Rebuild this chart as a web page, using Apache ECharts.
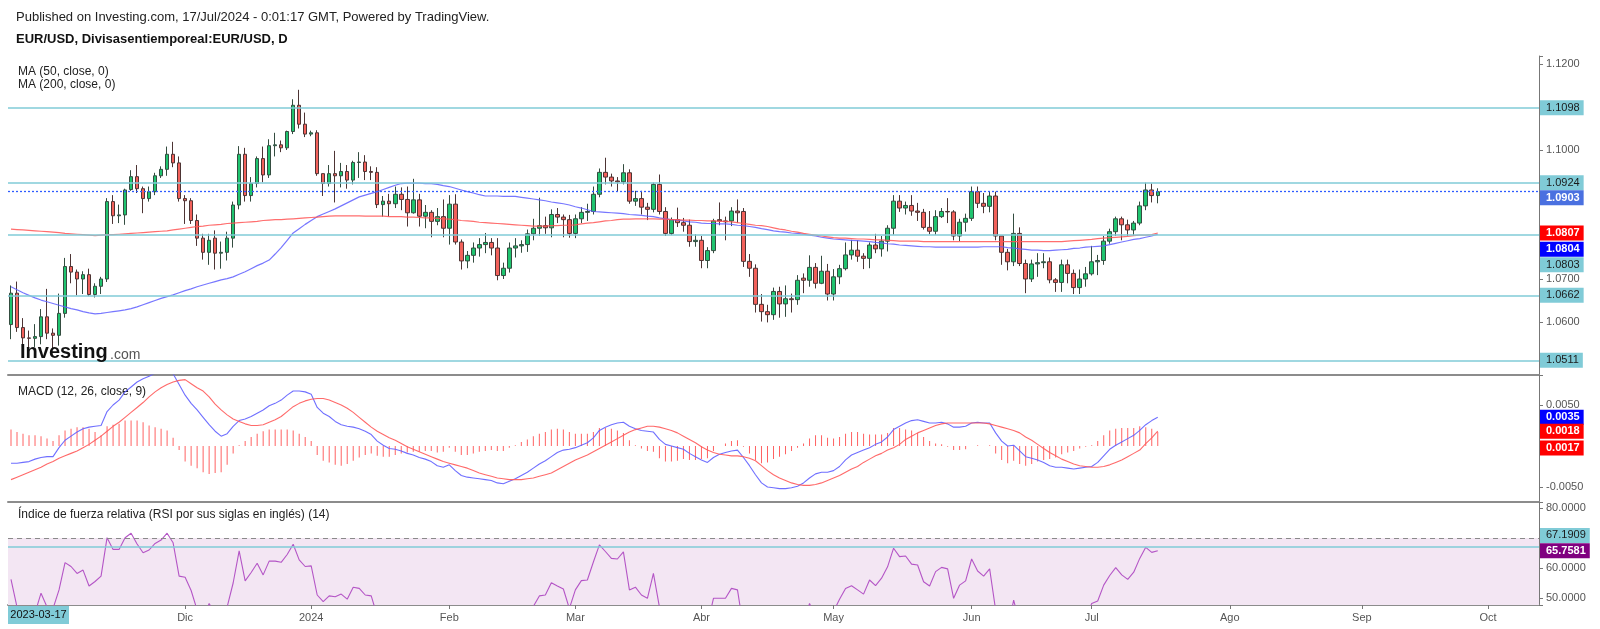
<!DOCTYPE html>
<html><head><meta charset="utf-8">
<script src="https://cdn.jsdelivr.net/npm/echarts@6.0.0/dist/echarts.min.js"></script>
<style>html,body{margin:0;padding:0;background:#fff}#c{width:1600px;height:629px}</style>
</head><body><div id="c"></div>
<script>
// ---------- DATA ----------
const firstDay = [2023, 9, 23];   // 2023-10-23, first daily bar
const totalSlots = 255;           // bars + empty future slots on the time axis
const monthNames = ['Ene','Feb','Mar','Abr','May','Jun','Jul','Ago','Sep','Oct','Nov','Dic'];

const opens = [
1.0594,1.0667,1.0587,1.0563,1.0562,1.0566,1.0612,1.0574,1.0569,1.0620,
1.0729,1.0716,1.0700,1.0710,1.0664,1.0683,1.0700,1.0880,1.0847,1.0849,
1.0908,1.0938,1.0910,1.0887,1.0903,1.0940,1.0955,1.0990,1.0970,1.0887,
1.0882,1.0836,1.0795,1.0762,1.0795,1.0760,1.0762,1.0795,1.0872,1.0990,
1.0894,1.0922,1.0980,1.0942,1.1010,1.1012,1.1005,1.1043,1.1104,1.1060,
1.1037,1.1040,1.0945,1.0922,1.0945,1.0940,1.0950,1.0930,1.0971,1.0972,
1.0950,1.0948,1.0873,1.0881,1.0875,1.0897,1.0885,1.0854,1.0884,1.0846,
1.0855,1.0834,1.0845,1.0818,1.0874,1.0786,1.0742,1.0755,1.0772,1.0780,
1.0785,1.0772,1.0708,1.0725,1.0772,1.0777,1.0780,1.0805,1.0818,1.0824,
1.0819,1.0850,1.0844,1.0838,1.0806,1.0840,1.0855,1.0857,1.0897,1.0948,
1.0937,1.0928,1.0926,1.0947,1.0881,1.0887,1.0867,1.0862,1.0920,1.0857,
1.0806,1.0838,1.0831,1.0825,1.0787,1.0790,1.0743,1.0766,1.0838,1.0835,
1.0835,1.0858,1.0857,1.0741,1.0725,1.0641,1.0624,1.0617,1.0671,1.0642,
1.0654,1.0652,1.0702,1.0697,1.0727,1.0690,1.0718,1.0665,1.0705,1.0724,
1.0756,1.0767,1.0753,1.0748,1.0779,1.0770,1.0788,1.0818,1.0881,1.0865,
1.0871,1.0858,1.0855,1.0820,1.0811,1.0845,1.0857,1.0856,1.0800,1.0832,
1.0841,1.0903,1.0876,1.0869,1.0893,1.0800,1.0762,1.0740,1.0806,1.0736,
1.0700,1.0735,1.0738,1.0740,1.0698,1.0692,1.0733,1.0713,1.0680,1.0700,
1.0712,1.0740,1.0743,1.0788,1.0810,1.0840,1.0826,1.0814,1.0830,1.0870,
1.0907,1.0894];
const closes = [
1.0667,1.0587,1.0563,1.0562,1.0566,1.0612,1.0574,1.0569,1.0620,1.0729,
1.0716,1.0700,1.0710,1.0664,1.0683,1.0700,1.0880,1.0847,1.0849,1.0907,
1.0938,1.0910,1.0887,1.0903,1.0940,1.0955,1.0990,1.0970,1.0887,1.0882,
1.0836,1.0795,1.0762,1.0790,1.0760,1.0762,1.0795,1.0872,1.0990,1.0894,
1.0922,1.0980,1.0942,1.1010,1.1012,1.1005,1.1043,1.1104,1.1060,1.1037,
1.1040,1.0945,1.0922,1.0945,1.0940,1.0950,1.0930,1.0971,1.0972,1.0950,
1.0948,1.0873,1.0881,1.0875,1.0897,1.0885,1.0854,1.0884,1.0846,1.0855,
1.0834,1.0845,1.0818,1.0874,1.0786,1.0742,1.0755,1.0772,1.0780,1.0785,
1.0772,1.0708,1.0725,1.0772,1.0777,1.0780,1.0805,1.0818,1.0824,1.0819,
1.0850,1.0844,1.0838,1.0806,1.0840,1.0855,1.0857,1.0897,1.0948,1.0937,
1.0928,1.0926,1.0947,1.0881,1.0887,1.0867,1.0862,1.0920,1.0857,1.0806,
1.0838,1.0831,1.0825,1.0787,1.0790,1.0743,1.0766,1.0835,1.0835,1.0833,
1.0858,1.0854,1.0741,1.0725,1.0641,1.0624,1.0617,1.0671,1.0642,1.0654,
1.0652,1.0697,1.0697,1.0727,1.0690,1.0718,1.0665,1.0705,1.0724,1.0756,
1.0767,1.0753,1.0748,1.0779,1.0770,1.0788,1.0818,1.0881,1.0865,1.0871,
1.0858,1.0855,1.0820,1.0811,1.0845,1.0857,1.0856,1.0800,1.0832,1.0841,
1.0903,1.0876,1.0869,1.0893,1.0800,1.0762,1.0740,1.0806,1.0736,1.0700,
1.0735,1.0738,1.0740,1.0698,1.0692,1.0733,1.0713,1.0680,1.0700,1.0712,
1.0740,1.0743,1.0788,1.0810,1.0840,1.0826,1.0814,1.0830,1.0870,1.0907,
1.0894,1.0903];
const lows = [
1.0560,1.0577,1.0545,1.0530,1.0542,1.0548,1.0560,1.0535,1.0545,1.0610,
1.0690,1.0662,1.0665,1.0660,1.0657,1.0665,1.0693,1.0828,1.0830,1.0826,
1.0905,1.0900,1.0853,1.0880,1.0895,1.0935,1.0940,1.0960,1.0880,1.0828,
1.0828,1.0777,1.0745,1.0733,1.0722,1.0724,1.0743,1.0773,1.0862,1.0880,
1.0880,1.0913,1.0925,1.0935,1.0985,1.0995,1.1000,1.1037,1.1050,1.1030,
1.1032,1.0940,1.0893,1.0915,1.0878,1.0913,1.0910,1.0920,1.0935,1.0930,
1.0930,1.0865,1.0845,1.0845,1.0865,1.0860,1.0822,1.0852,1.0822,1.0818,
1.0797,1.0825,1.0797,1.0780,1.0780,1.0722,1.0725,1.0738,1.0752,1.0760,
1.0755,1.0697,1.0700,1.0715,1.0750,1.0761,1.0763,1.0790,1.0800,1.0805,
1.0797,1.0830,1.0797,1.0796,1.0795,1.0830,1.0835,1.0850,1.0890,1.0920,
1.0915,1.0903,1.0920,1.0875,1.0870,1.0850,1.0837,1.0855,1.0850,1.0800,
1.0802,1.0821,1.0810,1.0775,1.0775,1.0725,1.0725,1.0760,1.0825,1.0790,
1.0823,1.0830,1.0728,1.0705,1.0622,1.0601,1.0599,1.0605,1.0610,1.0612,
1.0622,1.0640,1.0667,1.0682,1.0678,1.0688,1.0650,1.0650,1.0688,1.0720,
1.0745,1.0740,1.0723,1.0725,1.0760,1.0752,1.0764,1.0803,1.0856,1.0850,
1.0847,1.0835,1.0815,1.0804,1.0803,1.0842,1.0830,1.0790,1.0788,1.0810,
1.0835,1.0865,1.0853,1.0855,1.0790,1.0733,1.0720,1.0730,1.0730,1.0667,
1.0693,1.0705,1.0725,1.0690,1.0670,1.0670,1.0690,1.0665,1.0665,1.0682,
1.0708,1.0709,1.0733,1.0782,1.0800,1.0790,1.0800,1.0800,1.0825,1.0860,
1.0878,1.0876];
const highs = [
1.0685,1.0694,1.0609,1.0580,1.0595,1.0630,1.0677,1.0585,1.0666,1.0749,
1.0758,1.0722,1.0718,1.0724,1.0690,1.0705,1.0888,1.0895,1.0873,1.0910,
1.0953,1.0965,1.0915,1.0915,1.0947,1.0962,1.1008,1.1019,1.0985,1.0895,
1.0888,1.0850,1.0805,1.0805,1.0813,1.0787,1.0810,1.0880,1.1009,1.1005,
1.0937,1.0985,1.1008,1.1025,1.1040,1.1022,1.1045,1.1118,1.1140,1.1087,
1.1045,1.1046,1.0945,1.0965,1.0998,1.0970,1.0965,1.0975,1.0995,1.0988,
1.0962,1.0960,1.0893,1.0898,1.0915,1.0913,1.0915,1.0933,1.0898,1.0872,
1.0860,1.0865,1.0885,1.0895,1.0897,1.0792,1.0765,1.0785,1.0795,1.0807,
1.0795,1.0795,1.0738,1.0785,1.0795,1.0790,1.0815,1.0840,1.0889,1.0845,
1.0862,1.0865,1.0850,1.0849,1.0850,1.0867,1.0875,1.0915,1.0957,1.0982,
1.0945,1.0937,1.0967,1.0955,1.0905,1.0905,1.0877,1.0924,1.0943,1.0867,
1.0843,1.0866,1.0842,1.0838,1.0804,1.0800,1.0774,1.0840,1.0878,1.0845,
1.0867,1.0885,1.0865,1.0758,1.0734,1.0665,1.0640,1.0680,1.0682,1.0685,
1.0666,1.0709,1.0713,1.0755,1.0737,1.0754,1.0735,1.0723,1.0733,1.0785,
1.0791,1.0790,1.0760,1.0785,1.0805,1.0800,1.0825,1.0895,1.0895,1.0880,
1.0895,1.0877,1.0863,1.0858,1.0860,1.0865,1.0888,1.0860,1.0840,1.0852,
1.0915,1.0915,1.0900,1.0903,1.0903,1.0800,1.0770,1.0852,1.0820,1.0745,
1.0745,1.0760,1.0760,1.0750,1.0702,1.0745,1.0745,1.0722,1.0722,1.0728,
1.0777,1.0756,1.0800,1.0817,1.0845,1.0845,1.0838,1.0835,1.0880,1.0924,
1.0922,1.0911];
const ma50 = [
1.0682,1.0675,1.0668,1.0662,1.0656,1.0651,1.0647,1.0643,1.0639,1.0635,
1.0631,1.0628,1.0624,1.0621,1.0619,1.0620,1.0622,1.0624,1.0626,1.0628,
1.0631,1.0635,1.0640,1.0645,1.0650,1.0655,1.0659,1.0663,1.0668,1.0673,
1.0677,1.0682,1.0686,1.0690,1.0694,1.0698,1.0701,1.0705,1.0711,1.0717,
1.0724,1.0731,1.0737,1.0744,1.0758,1.0773,1.0790,1.0807,1.0817,1.0827,
1.0836,1.0845,1.0851,1.0857,1.0863,1.0870,1.0877,1.0884,1.0891,1.0895,
1.0899,1.0903,1.0908,1.0913,1.0918,1.0922,1.0923,1.0923,1.0923,1.0922,
1.0922,1.0920,1.0917,1.0915,1.0911,1.0907,1.0903,1.0900,1.0896,1.0893,
1.0893,1.0893,1.0892,1.0892,1.0892,1.0890,1.0888,1.0886,1.0884,1.0882,
1.0879,1.0877,1.0875,1.0872,1.0868,1.0865,1.0861,1.0857,1.0856,1.0855,
1.0854,1.0853,1.0852,1.0850,1.0849,1.0848,1.0846,1.0845,1.0842,1.0840,
1.0838,1.0837,1.0835,1.0833,1.0832,1.0830,1.0829,1.0829,1.0828,1.0828,
1.0827,1.0825,1.0824,1.0822,1.0820,1.0817,1.0815,1.0812,1.0810,1.0809,
1.0807,1.0806,1.0804,1.0802,1.0800,1.0797,1.0795,1.0793,1.0792,1.0791,
1.0790,1.0789,1.0788,1.0787,1.0785,1.0784,1.0782,1.0781,1.0779,1.0778,
1.0777,1.0776,1.0775,1.0775,1.0774,1.0774,1.0774,1.0774,1.0774,1.0774,
1.0774,1.0774,1.0775,1.0775,1.0775,1.0775,1.0773,1.0772,1.0770,1.0769,
1.0767,1.0767,1.0766,1.0766,1.0767,1.0768,1.0769,1.0771,1.0772,1.0774,
1.0775,1.0776,1.0777,1.0780,1.0783,1.0786,1.0789,1.0792,1.0794,1.0797,
1.0800,1.0804];
const ma200 = [
1.0816,1.0815,1.0814,1.0813,1.0812,1.0811,1.0810,1.0809,1.0808,1.0806,
1.0805,1.0804,1.0803,1.0802,1.0801,1.0802,1.0803,1.0803,1.0804,1.0805,
1.0806,1.0807,1.0808,1.0809,1.0810,1.0811,1.0812,1.0814,1.0816,1.0818,
1.0820,1.0822,1.0823,1.0825,1.0826,1.0827,1.0829,1.0830,1.0831,1.0832,
1.0833,1.0834,1.0836,1.0837,1.0838,1.0838,1.0839,1.0840,1.0841,1.0842,
1.0843,1.0844,1.0845,1.0846,1.0847,1.0847,1.0847,1.0847,1.0847,1.0846,
1.0846,1.0846,1.0846,1.0845,1.0845,1.0845,1.0844,1.0844,1.0843,1.0842,
1.0842,1.0841,1.0840,1.0839,1.0838,1.0836,1.0835,1.0834,1.0832,1.0831,
1.0830,1.0829,1.0828,1.0827,1.0826,1.0825,1.0824,1.0823,1.0823,1.0823,
1.0824,1.0824,1.0825,1.0825,1.0826,1.0828,1.0830,1.0831,1.0833,1.0835,
1.0836,1.0838,1.0839,1.0839,1.0840,1.0840,1.0840,1.0840,1.0839,1.0839,
1.0838,1.0838,1.0837,1.0837,1.0836,1.0836,1.0835,1.0835,1.0834,1.0834,
1.0833,1.0831,1.0829,1.0827,1.0825,1.0824,1.0822,1.0819,1.0816,1.0814,
1.0811,1.0809,1.0806,1.0804,1.0802,1.0800,1.0798,1.0796,1.0795,1.0795,
1.0794,1.0793,1.0793,1.0792,1.0791,1.0791,1.0790,1.0789,1.0788,1.0788,
1.0788,1.0788,1.0787,1.0787,1.0787,1.0787,1.0787,1.0787,1.0787,1.0787,
1.0787,1.0787,1.0787,1.0787,1.0787,1.0787,1.0787,1.0787,1.0787,1.0787,
1.0787,1.0787,1.0787,1.0787,1.0787,1.0787,1.0788,1.0789,1.0790,1.0791,
1.0792,1.0794,1.0795,1.0796,1.0797,1.0798,1.0799,1.0801,1.0802,1.0802,
1.0803,1.0807];
const macd = [
-0.0021,-0.0021,-0.0020,-0.0019,-0.0016,-0.0014,-0.0013,-0.0013,-0.0002,0.0007,
0.0012,0.0017,0.0021,0.0023,0.0024,0.0025,0.0042,0.0050,0.0056,0.0066,
0.0072,0.0078,0.0082,0.0085,0.0089,0.0092,0.0094,0.0088,0.0075,0.0062,
0.0052,0.0044,0.0035,0.0026,0.0018,0.0012,0.0015,0.0024,0.0031,0.0033,
0.0036,0.0040,0.0044,0.0049,0.0052,0.0056,0.0062,0.0067,0.0067,0.0066,
0.0063,0.0047,0.0040,0.0036,0.0030,0.0026,0.0024,0.0023,0.0021,0.0018,
0.0014,0.0006,0.0001,-0.0003,-0.0004,-0.0006,-0.0009,-0.0011,-0.0014,-0.0016,
-0.0019,-0.0024,-0.0026,-0.0023,-0.0030,-0.0036,-0.0038,-0.0039,-0.0040,-0.0041,
-0.0042,-0.0045,-0.0046,-0.0043,-0.0040,-0.0036,-0.0032,-0.0027,-0.0022,-0.0018,
-0.0013,-0.0008,-0.0005,-0.0004,-0.0002,0.0001,0.0004,0.0010,0.0019,0.0023,
0.0026,0.0028,0.0029,0.0024,0.0021,0.0019,0.0018,0.0017,0.0008,0.0002,
0.0000,-0.0002,-0.0004,-0.0009,-0.0013,-0.0017,-0.0020,-0.0014,-0.0010,-0.0008,
-0.0006,-0.0005,-0.0014,-0.0024,-0.0035,-0.0045,-0.0050,-0.0051,-0.0052,-0.0052,
-0.0051,-0.0049,-0.0045,-0.0039,-0.0034,-0.0032,-0.0032,-0.0030,-0.0025,-0.0017,
-0.0011,-0.0008,-0.0005,-0.0002,0.0002,0.0005,0.0011,0.0020,0.0024,0.0028,
0.0031,0.0032,0.0030,0.0028,0.0028,0.0029,0.0027,0.0023,0.0023,0.0024,
0.0028,0.0029,0.0028,0.0028,0.0016,0.0006,0.0000,0.0001,-0.0006,-0.0013,
-0.0015,-0.0017,-0.0020,-0.0024,-0.0026,-0.0026,-0.0027,-0.0028,-0.0027,-0.0026,
-0.0025,-0.0020,-0.0012,-0.0004,0.0001,0.0005,0.0009,0.0013,0.0019,0.0026,
0.0031,0.0035];
const signal = [
-0.0041,-0.0038,-0.0035,-0.0032,-0.0029,-0.0026,-0.0022,-0.0019,-0.0015,-0.0012,
-0.0009,-0.0006,-0.0002,0.0002,0.0007,0.0012,0.0018,0.0024,0.0029,0.0035,
0.0041,0.0047,0.0053,0.0060,0.0066,0.0071,0.0075,0.0078,0.0080,0.0081,
0.0076,0.0071,0.0067,0.0060,0.0051,0.0044,0.0038,0.0033,0.0030,0.0027,
0.0025,0.0025,0.0026,0.0029,0.0032,0.0036,0.0042,0.0048,0.0052,0.0055,
0.0057,0.0058,0.0058,0.0056,0.0053,0.0050,0.0046,0.0041,0.0035,0.0029,
0.0023,0.0018,0.0014,0.0010,0.0007,0.0003,-0.0001,-0.0004,-0.0007,-0.0010,
-0.0013,-0.0016,-0.0019,-0.0021,-0.0023,-0.0025,-0.0027,-0.0030,-0.0033,-0.0035,
-0.0037,-0.0039,-0.0040,-0.0041,-0.0041,-0.0041,-0.0040,-0.0039,-0.0037,-0.0035,
-0.0033,-0.0029,-0.0025,-0.0021,-0.0017,-0.0014,-0.0011,-0.0007,-0.0003,0.0001,
0.0005,0.0009,0.0013,0.0017,0.0020,0.0022,0.0024,0.0024,0.0023,0.0021,
0.0019,0.0016,0.0012,0.0008,0.0004,-0.0001,-0.0005,-0.0008,-0.0010,-0.0011,
-0.0012,-0.0012,-0.0013,-0.0015,-0.0018,-0.0024,-0.0030,-0.0035,-0.0039,-0.0042,
-0.0045,-0.0047,-0.0048,-0.0048,-0.0047,-0.0045,-0.0042,-0.0039,-0.0036,-0.0032,
-0.0028,-0.0025,-0.0020,-0.0016,-0.0012,-0.0009,-0.0005,-0.0002,0.0002,0.0008,
0.0012,0.0016,0.0019,0.0022,0.0025,0.0027,0.0028,0.0028,0.0028,0.0028,
0.0028,0.0028,0.0028,0.0027,0.0025,0.0023,0.0021,0.0019,0.0016,0.0011,
0.0007,0.0002,-0.0003,-0.0008,-0.0012,-0.0016,-0.0019,-0.0022,-0.0024,-0.0025,
-0.0026,-0.0026,-0.0025,-0.0023,-0.0020,-0.0017,-0.0013,-0.0009,-0.0005,0.0003,
0.0010,0.0018];
const hist = [
0.0020,0.0017,0.0015,0.0013,0.0013,0.0012,0.0009,0.0006,0.0013,0.0019,
0.0021,0.0023,0.0023,0.0021,0.0017,0.0013,0.0024,0.0026,0.0027,0.0031,
0.0031,0.0031,0.0029,0.0025,0.0023,0.0021,0.0019,0.0010,-0.0005,-0.0019,
-0.0024,-0.0027,-0.0032,-0.0034,-0.0033,-0.0032,-0.0023,-0.0009,0.0001,0.0006,
0.0011,0.0015,0.0018,0.0020,0.0020,0.0020,0.0020,0.0019,0.0015,0.0011,
0.0006,-0.0011,-0.0018,-0.0020,-0.0023,-0.0024,-0.0022,-0.0018,-0.0014,-0.0011,
-0.0009,-0.0012,-0.0013,-0.0013,-0.0011,-0.0009,-0.0008,-0.0007,-0.0007,-0.0006,
-0.0006,-0.0008,-0.0007,-0.0002,-0.0007,-0.0011,-0.0011,-0.0009,-0.0007,-0.0006,
-0.0005,-0.0006,-0.0006,-0.0002,0.0001,0.0005,0.0008,0.0012,0.0015,0.0017,
0.0020,0.0021,0.0020,0.0017,0.0015,0.0015,0.0015,0.0017,0.0022,0.0022,
0.0021,0.0019,0.0016,0.0007,0.0001,-0.0003,-0.0006,-0.0007,-0.0015,-0.0019,
-0.0019,-0.0018,-0.0016,-0.0017,-0.0017,-0.0016,-0.0015,-0.0006,0.0000,0.0003,
0.0006,0.0007,-0.0001,-0.0009,-0.0017,-0.0021,-0.0020,-0.0016,-0.0013,-0.0010,
-0.0006,-0.0002,0.0003,0.0009,0.0013,0.0013,0.0010,0.0009,0.0011,0.0015,
0.0017,0.0017,0.0015,0.0014,0.0014,0.0014,0.0016,0.0022,0.0022,0.0020,
0.0019,0.0016,0.0011,0.0006,0.0003,0.0002,-0.0001,-0.0005,-0.0005,-0.0004,
0.0000,0.0001,0.0000,0.0001,-0.0009,-0.0017,-0.0021,-0.0018,-0.0022,-0.0024,
-0.0022,-0.0019,-0.0017,-0.0016,-0.0014,-0.0010,-0.0008,-0.0006,-0.0003,-0.0001,
0.0001,0.0006,0.0013,0.0019,0.0021,0.0022,0.0022,0.0022,0.0024,0.0023,
0.0021,0.0017];
const rsi = [
56.2,47,44.5,44.3,45,51.6,47,46.5,52.7,61.8,
60.5,58.2,59.3,54,55.5,57.3,70.1,66.2,66.2,70.1,
71.6,68,65.1,66,68.2,69.3,71.6,68.4,57.3,56.9,
52.5,46,43,48.2,44.5,44.7,47,55,65.7,55.7,
58.5,61.6,57.7,62.3,62.3,61.9,64.5,67.9,62.7,60.5,
60.7,51,48.8,50.7,50.4,51.3,49.6,53.6,53.2,51,
50.7,44,44.8,44.3,46,45.2,43,46,43,43.8,
42.3,43.2,41.5,46.5,40.5,37.8,39,40.5,41.2,41.7,
40.8,36.5,38,42,42.4,42.7,45,47.2,50.7,51,
55.1,54,53,46.5,52.7,55.8,56,62,67.7,65.5,
63.2,63,65.4,52.7,53.6,51,49.9,58.2,47,41,
45,44.5,44,40.5,41,37,41,49.9,49.9,49.9,
53.2,52.7,40,38.5,31.5,30.5,30,37,34.5,36,
36,41,41.2,48.2,43.5,46.5,40.5,45.5,49.6,53.2,
54.1,52.7,51.3,56,54.1,56.6,60.4,66.6,63.8,64,
61.3,61,55.4,54,58.8,60.2,59.7,49.9,54.3,55.7,
63,59,57.3,59.7,46,41.5,39.5,49.3,41.5,38.5,
43.5,43.8,44.2,39.5,39,44,42,39,41.5,43,
48.2,49,54.3,57.5,60.1,57.7,56.2,58.6,63.2,66.9,
65.2,65.7581];

const priceLevels = [1.1098, 1.0924, 1.0803, 1.0662, 1.0511]; // drawn horizontal lines
const lastPrice = 1.0903;
const rsiLevel = 67.1909;
const rsiBand = [30, 70];
const priceTicksShown = [1.06, 1.07, 1.10, 1.12];
const macdTicksShown = [0.005, -0.005];
const rsiTicksShown = [80, 60, 50];

// ---------- BUILD ----------
const FONT = '"Liberation Sans", Arial, sans-serif';
const categories = [];
{
  const d = new Date(Date.UTC(firstDay[0], firstDay[1], firstDay[2]));
  while (categories.length < totalSlots) {
    const wd = d.getUTCDay();
    if (wd !== 0 && wd !== 6) categories.push(d.toISOString().slice(0, 10));
    d.setUTCDate(d.getUTCDate() + 1);
  }
}
const monthStart = new Set();
categories.forEach((c, i) => {
  if (i > 12 && c.slice(5, 7) !== categories[i - 1].slice(5, 7)) monthStart.add(i);
});
const candles = opens.map((o, i) => [o, closes[i], lows[i], highs[i]]);
const last = a => a[a.length - 1];

const CYAN = '#80cbd7';
function tag(value, bg, fg, bold, dy) {
  return {
    show: true, position: 'end', distance: 1,
    formatter: value.toFixed(4),
    backgroundColor: bg, color: fg, fontSize: 11, fontFamily: FONT,
    fontWeight: bold ? 'bold' : 'normal', padding: [1, 4, 1, 6], lineHeight: 13,
    offset: [0, dy || 0]
  };
}
const NOLINE = { color: 'rgba(0,0,0,0)', width: 0 };
function showOnly(list) {
  return v => list.some(s => Math.abs(s - v) < 1e-9) ? v.toFixed(4) : '';
}

const xBase = (gi) => ({
  type: 'category', gridIndex: gi, data: categories, boundaryGap: true,
  axisLine: { show: true, onZero: false, lineStyle: { color: '#8c8c8c', width: 2 } },
  axisTick: { show: false }, axisLabel: { show: false }, splitLine: { show: false }
});
const yBase = (gi, min, max, split, shown) => ({
  type: 'value', gridIndex: gi, position: 'right', min, max, splitNumber: split,
  axisLine: { show: true, lineStyle: { color: '#777', width: 1 } },
  axisTick: { show: true, length: 4, lineStyle: { color: '#777' } },
  splitLine: { show: false },
  axisLabel: { formatter: showOnly(shown), color: '#555', fontSize: 11, fontFamily: FONT, margin: 7 }
});

const xAxes = [xBase(0), xBase(1), xBase(2)];
xAxes[2].axisTick = { show: true, interval: (i) => monthStart.has(i), alignWithLabel: true, length: 4, lineStyle: { color: '#777' } };
xAxes[2].axisLabel = {
  show: true, interval: (i) => monthStart.has(i), color: '#555', fontSize: 11, fontFamily: FONT, margin: 7,
  formatter: (v) => { const m = +v.slice(5, 7); return m === 1 ? v.slice(0, 4) : monthNames[m - 1]; }
};

const option = {
  animation: false,
  backgroundColor: '#ffffff',
  grid: [
    { left: 8, right: 61, top: 56, height: 319 },
    { left: 8, right: 61, top: 375, height: 127 },
    { left: 8, right: 61, top: 502, height: 103 }
  ],
  xAxis: xAxes,
  yAxis: [
    yBase(0, 1.04767, 1.12186, 8, priceTicksShown),
    yBase(1, -0.006829, 0.008659, 3, macdTicksShown),
    yBase(2, 47.667, 82, 3, rsiTicksShown)
  ],
  series: [
    { // price level lines and value tags
      type: 'line', xAxisIndex: 0, yAxisIndex: 0, data: [], clip: false, z: 1, silent: true,
      markLine: {
        symbol: ['none', 'none'], silent: true, precision: 4, animation: false,
        data: [
          ...priceLevels.map(v => ({
            yAxis: v, lineStyle: { color: CYAN, width: 1.5, type: 'solid' },
            label: tag(v, CYAN, '#1a1a1a', false, v === 1.0803 ? 30 : 0)
          })),
          { yAxis: lastPrice, lineStyle: { color: '#2f5cff', width: 1.3, type: [2, 2] }, label: tag(lastPrice, '#4a70e0', '#fff', true, 6) },
          { yAxis: last(ma200), lineStyle: NOLINE, label: tag(last(ma200), '#ff0000', '#fff', true, 0) },
          { yAxis: last(ma50), lineStyle: NOLINE, label: tag(last(ma50), '#0000ff', '#fff', true, 15) }
        ]
      }
    },
    {
      type: 'candlestick', xAxisIndex: 0, yAxisIndex: 0, data: candles, barWidth: 4, z: 3,
      itemStyle: { color: '#1fc46f', color0: '#f2615b', borderColor: '#344d40', borderColor0: '#4d3434', borderWidth: 1 }
    },
    { type: 'line', xAxisIndex: 0, yAxisIndex: 0, data: ma50, symbol: 'none', z: 4,
      lineStyle: { color: 'rgba(95,95,255,0.85)', width: 1.2 } },
    { type: 'line', xAxisIndex: 0, yAxisIndex: 0, data: ma200, symbol: 'none', z: 4,
      lineStyle: { color: 'rgba(255,85,85,0.85)', width: 1.2 } },
    { type: 'bar', xAxisIndex: 1, yAxisIndex: 1, data: hist, barWidth: 1, z: 2,
      itemStyle: { color: 'rgba(255,70,70,0.85)' } },
    { type: 'line', xAxisIndex: 1, yAxisIndex: 1, data: macd, symbol: 'none', z: 3,
      lineStyle: { color: 'rgba(95,95,255,0.9)', width: 1.1 } },
    { type: 'line', xAxisIndex: 1, yAxisIndex: 1, data: signal, symbol: 'none', z: 3,
      lineStyle: { color: 'rgba(255,90,90,0.9)', width: 1.1 } },
    { // MACD value tags
      type: 'line', xAxisIndex: 1, yAxisIndex: 1, data: [], clip: false, z: 1, silent: true,
      markLine: {
        symbol: ['none', 'none'], silent: true, precision: 4, animation: false,
        data: [
          { yAxis: last(macd), lineStyle: NOLINE, label: tag(last(macd), '#0000ff', '#fff', true, 0) },
          { yAxis: last(signal), lineStyle: NOLINE, label: tag(last(signal), '#ff0000', '#fff', true, 0) },
          { yAxis: last(hist), lineStyle: NOLINE, label: tag(last(hist), '#ff0000', '#fff', true, 16) }
        ]
      }
    },
    {
      type: 'line', xAxisIndex: 2, yAxisIndex: 2, data: rsi, symbol: 'none', z: 3,
      lineStyle: { color: '#b455c6', width: 1.1 },
      markArea: {
        silent: true, itemStyle: { color: '#f3e6f3' },
        data: [[{ yAxis: Math.max(rsiBand[0], 47.667) }, { yAxis: rsiBand[1] }]]
      }
    },
    { // RSI lines and tags
      type: 'line', xAxisIndex: 2, yAxisIndex: 2, data: [], clip: false, z: 2, silent: true,
      markLine: {
        symbol: ['none', 'none'], silent: true, precision: 4, animation: false,
        data: [
          { yAxis: rsiBand[1], lineStyle: { color: '#8a8a8a', width: 1, type: [5, 4] }, label: { show: false } },
          { yAxis: rsiLevel, lineStyle: { color: CYAN, width: 1.5, type: 'solid' }, label: tag(rsiLevel, CYAN, '#1a1a1a', false, -11) },
          { yAxis: last(rsi), lineStyle: NOLINE, label: tag(last(rsi), '#800080', '#fff', true, 0) }
        ]
      }
    }
  ],
  graphic: [
    { type: 'text', x: 16, y: 17.5, style: { text: 'Published on Investing.com, 17/Jul/2024 - 0:01:17 GMT, Powered by TradingView.', fontSize: 13, fontFamily: FONT, fill: '#222', verticalAlign: 'middle' } },
    { type: 'text', x: 16, y: 39.5, style: { text: 'EUR/USD, Divisasentiemporeal:EUR/USD, D', fontSize: 13, fontWeight: 'bold', fontFamily: FONT, fill: '#111', verticalAlign: 'middle' } },
    { type: 'text', x: 18, y: 72, style: { text: 'MA (50, close, 0)', fontSize: 12, fontFamily: FONT, fill: '#222', verticalAlign: 'middle' } },
    { type: 'text', x: 18, y: 85, style: { text: 'MA (200, close, 0)', fontSize: 12, fontFamily: FONT, fill: '#222', verticalAlign: 'middle' } },
    { type: 'text', x: 18, y: 392, style: { text: 'MACD (12, 26, close, 9)', fontSize: 12, fontFamily: FONT, fill: '#222', verticalAlign: 'middle' } },
    { type: 'text', x: 18, y: 515, style: { text: 'Índice de fuerza relativa (RSI por sus siglas en inglés) (14)', fontSize: 12, fontFamily: FONT, fill: '#222', verticalAlign: 'middle' } },
    { type: 'text', x: 20, y: 352, z: 10, style: { text: 'Investing', fontSize: 20, fontWeight: 'bold', fontFamily: FONT, fill: '#111', verticalAlign: 'middle' } },
    { type: 'text', x: 110, y: 355, z: 10, style: { text: '.com', fontSize: 14, fontFamily: FONT, fill: '#555', verticalAlign: 'middle' } },
    { type: 'rect', z: 10, shape: { x: 8, y: 606, width: 61, height: 18 }, style: { fill: CYAN } },
    { type: 'text', z: 11, x: 38.5, y: 615, style: { text: '2023-03-17', fontSize: 11, fontFamily: FONT, fill: '#111', align: 'center', verticalAlign: 'middle' } }
  ]
};
const chart = echarts.init(document.getElementById('c'), null, { renderer: 'canvas' });
chart.setOption(option);
</script>
</body></html>
